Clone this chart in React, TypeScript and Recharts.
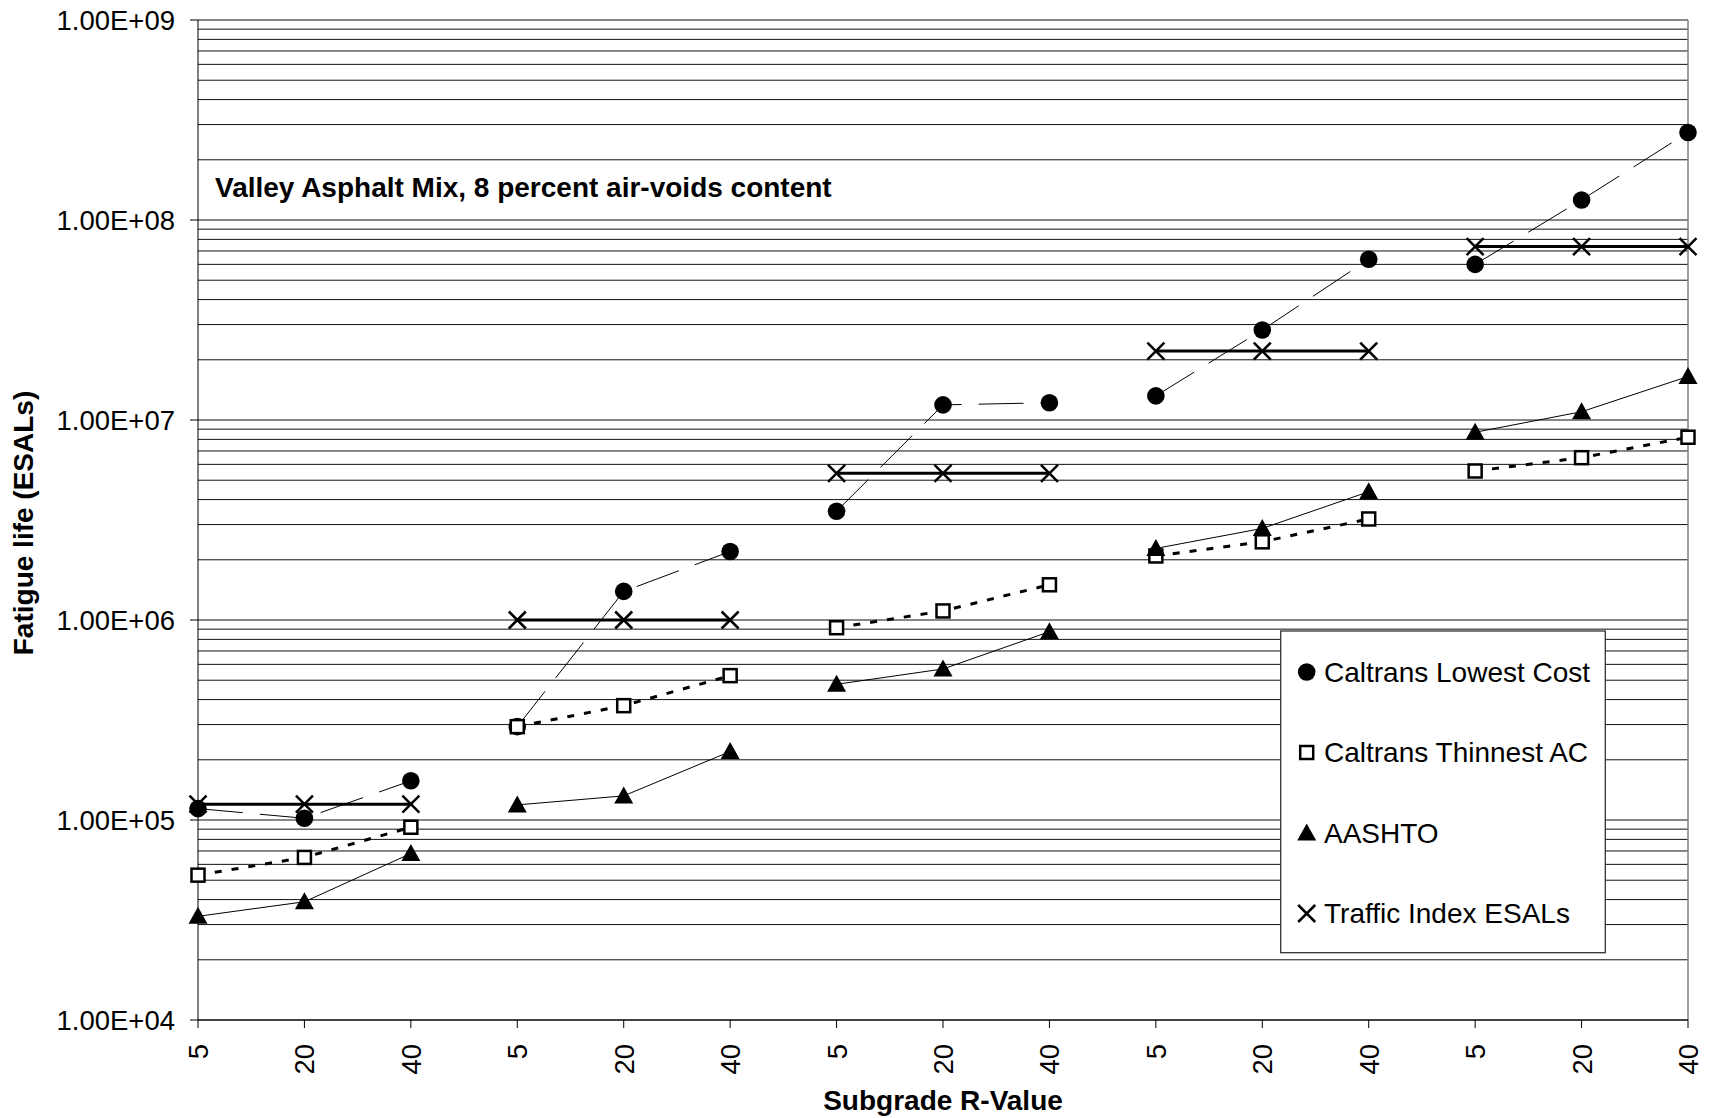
import React from 'react';
import { LineChart, Line, XAxis, YAxis, CartesianGrid } from 'recharts';

// Subgrade R-value categories, three per structural case
const categories = ['5', '20', '40', '5', '20', '40', '5', '20', '40', '5', '20', '40', '5', '20', '40'];
const groupSize = 3;

// Fatigue life (ESALs)
const lowestCost = [1.14e5, 1.02e5, 1.57e5, 2.93e5, 1.39e6, 2.2e6, 3.5e6, 1.19e7, 1.22e7, 1.32e7, 2.82e7, 6.36e7, 6.0e7, 1.26e8, 2.74e8];
const thinnestAC = [5.3e4, 6.5e4, 9.2e4, 2.93e5, 3.73e5, 5.27e5, 9.15e5, 1.11e6, 1.5e6, 2.09e6, 2.46e6, 3.2e6, 5.56e6, 6.48e6, 8.2e6];
const aashto = [3.3e4, 3.9e4, 6.8e4, 1.19e5, 1.32e5, 2.2e5, 4.77e5, 5.69e5, 8.74e5, 2.28e6, 2.87e6, 4.38e6, 8.68e6, 1.1e7, 1.65e7];
const trafficIndexEsals = [1.2e5, 1.2e5, 1.2e5, 1.0e6, 1.0e6, 1.0e6, 5.41e6, 5.41e6, 5.41e6, 2.21e7, 2.21e7, 2.21e7, 7.36e7, 7.36e7, 7.36e7];

const yTicks = [1e4, 1e5, 1e6, 1e7, 1e8, 1e9];
const minorSteps = [1, 2, 3, 4, 5, 6, 7, 8, 9];

const FONT = '"Liberation Sans", Arial, Helvetica, sans-serif';

type MarkerKind = 'circle' | 'square' | 'triangle' | 'cross';

const series: { key: string; name: string; values: number[]; width: number; dash?: string; marker: MarkerKind }[] = [
  { key: 'lowest', name: 'Caltrans Lowest Cost', values: lowestCost, width: 1, dash: '45 17', marker: 'circle' },
  { key: 'thinnest', name: 'Caltrans Thinnest AC', values: thinnestAC, width: 3, dash: '7 10', marker: 'square' },
  { key: 'aashto', name: 'AASHTO', values: aashto, width: 1, marker: 'triangle' },
  { key: 'traffic', name: 'Traffic Index ESALs', values: trafficIndexEsals, width: 3, marker: 'cross' },
];

const groupCount = Math.ceil(categories.length / groupSize);
const groups = Array.from({ length: groupCount }, (_, g) => g);

// One row per category; each series is split into per-case keys so lines only join within a case
const rows = categories.map((label, i) => {
  const row: Record<string, any> = { x: i, label };
  series.forEach((s) => {
    groups.forEach((g) => {
      row[`${s.key}${g}`] = Math.floor(i / groupSize) === g ? s.values[i] : null;
    });
  });
  return row;
});

const gridValues = yTicks.slice(0, -1).flatMap((d) => minorSteps.map((m) => m * d)).concat([yTicks[yTicks.length - 1]]);

const formatExp = (v: number) => {
  const e = Math.floor(Math.log10(v) + 1e-9);
  const m = v / Math.pow(10, e);
  return `${m.toFixed(2)}E+${String(e).padStart(2, '0')}`;
};

function Marker({ kind, cx, cy }: { kind: MarkerKind; cx: number; cy: number }) {
  switch (kind) {
    case 'circle':
      return <circle cx={cx} cy={cy} r={8.8} fill="#000" />;
    case 'square':
      return <rect x={cx - 6.5} y={cy - 6.5} width={13} height={13} fill="#fff" stroke="#000" strokeWidth={2.5} />;
    case 'triangle':
      return <polygon points={`${cx},${cy - 9.5} ${cx - 9.5},${cy + 7.5} ${cx + 9.5},${cy + 7.5}`} fill="#000" />;
    case 'cross':
      return (
        <g stroke="#000" strokeWidth={2.5}>
          <line x1={cx - 8.5} y1={cy - 8.5} x2={cx + 8.5} y2={cy + 8.5} />
          <line x1={cx - 8.5} y1={cy + 8.5} x2={cx + 8.5} y2={cy - 8.5} />
        </g>
      );
  }
  return null;
}

const makeDot = (kind: MarkerKind, id: string) => (props: any) => {
  const { cx, cy, index } = props;
  const k = `${id}-${index}`;
  if (typeof cx !== 'number' || typeof cy !== 'number' || !isFinite(cy) || props.value == null) {
    return <g key={k} />;
  }
  return (
    <g key={k}>
      <Marker kind={kind} cx={cx} cy={cy} />
    </g>
  );
};

const XTick = (props: any) => {
  const { x, payload } = props;
  return (
    <text
      transform={`translate(${x + 10},1044) rotate(-90)`}
      textAnchor="end"
      fontSize={27.5}
      fontFamily={FONT}
      fill="#000"
    >
      {categories[payload.value]}
    </text>
  );
};

function LegendBox() {
  const left = 1280.7;
  const top = 631;
  const markerX = 1306.7;
  const textX = 1324;
  const rowY = [672, 752.5, 833, 913.5];
  return (
    <g>
      <rect x={left} y={top} width={324.6} height={321.7} fill="#fff" stroke="#333" strokeWidth={1.3} />
      {series.map((s, i) => (
        <g key={s.key}>
          <Marker kind={s.marker} cx={markerX} cy={rowY[i]} />
          <text x={textX} y={rowY[i]} dy="0.35em" fontSize={28} fontFamily={FONT} fill="#000">
            {s.name}
          </text>
        </g>
      ))}
    </g>
  );
}

export default function App() {
  return (
    <div style={{ position: 'absolute', left: 0, top: 0, width: 1709, height: 1118, background: '#fff' }}>
      <LineChart width={1709} height={1118} data={rows} margin={{ top: 20, right: 21, bottom: 38, left: 78 }}>
        <CartesianGrid vertical={false} horizontalValues={gridValues} stroke="#111" strokeWidth={1} />
        <CartesianGrid horizontal={false} verticalValues={[categories.length - 1]} stroke="#808080" strokeWidth={1.5} />
        <XAxis
          type="number"
          dataKey="x"
          domain={[0, categories.length - 1]}
          ticks={categories.map((_, i) => i)}
          interval={0}
          tick={<XTick />}
          tickSize={8}
          height={60}
          stroke="#000"
          allowDecimals={false}
        />
        <YAxis
          type="number"
          scale="log"
          domain={[yTicks[0], yTicks[yTicks.length - 1]]}
          ticks={yTicks}
          allowDataOverflow
          interval={0}
          width={120}
          tickSize={8}
          tickMargin={15}
          tickFormatter={formatExp}
          tick={{ fill: '#000', fontSize: 27.5, fontFamily: FONT }}
          stroke="#000"
        />
        {series.flatMap((s) =>
          groups.map((g) => (
            <Line
              key={`${s.key}${g}`}
              dataKey={`${s.key}${g}`}
              type="linear"
              stroke="#000"
              strokeWidth={s.width}
              strokeDasharray={s.dash}
              dot={makeDot(s.marker, `${s.key}${g}`)}
              activeDot={false}
              connectNulls={false}
              legendType="none"
              isAnimationActive={false}
            />
          ))
        )}
      </LineChart>
      <svg
        width={1709}
        height={1118}
        style={{ position: 'absolute', left: 0, top: 0, pointerEvents: 'none' }}
      >
        <text x={215} y={197} fontSize={28} fontWeight="bold" fontFamily={FONT} fill="#000">
          Valley Asphalt Mix, 8 percent air-voids content
        </text>
        <text x={943} y={1110} textAnchor="middle" fontSize={28} fontWeight="bold" fontFamily={FONT} fill="#000">
          Subgrade R-Value
        </text>
        <text
          transform="translate(33,523) rotate(-90)"
          textAnchor="middle"
          fontSize={28}
          fontWeight="bold"
          fontFamily={FONT}
          fill="#000"
        >
          Fatigue life (ESALs)
        </text>
        <LegendBox />
      </svg>
    </div>
  );
}
